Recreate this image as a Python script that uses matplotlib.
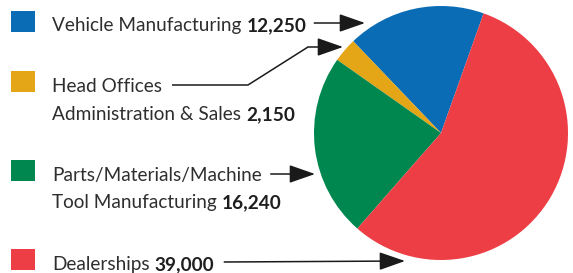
import matplotlib
matplotlib.use("Agg")
import matplotlib.pyplot as plt
from matplotlib.patches import FancyArrowPatch, Rectangle

plt.rcParams['font.family'] = ['Lato', 'DejaVu Sans']

labels = ["Vehicle Manufacturing", "Head Offices\nAdministration & Sales",
          "Parts/Materials/Machine\nTool Manufacturing", "Dealerships"]
values = [12250, 2150, 16240, 39000]
value_text = ["12,250", "2,150", "16,240", "39,000"]
colors = ["#0a6cb5", "#e4a617", "#00874f", "#ee3e45"]

TXT = "#2e2e2e"

fig = plt.figure(figsize=(5.73, 2.73), dpi=100)
ax = fig.add_axes([0, 0, 1, 1])

# pie in pixel-like coords (y inverted, so clockwise in data = counterclockwise on screen)
ax.pie(values, colors=colors, center=(441, 133), radius=127,
       startangle=-70.4, counterclock=False,
       wedgeprops=dict(linewidth=0))
ax.set_xlim(0, 573)
ax.set_ylim(273, 0)
ax.set_aspect('equal')
ax.axis('off')

# legend squares
sq_y = [11, 71, 160, 249]
for y, c in zip(sq_y, colors):
    ax.add_patch(Rectangle((11, y), 24, 21, color=c, lw=0))

fig.canvas.draw()
r = fig.canvas.get_renderer()
inv = ax.transData.inverted()

# pick a font size so the first label is as wide as in the reference (~189 px)
probe = ax.text(0, 0, "Vehicle Manufacturing", fontsize=15)
w = probe.get_window_extent(renderer=r).width
probe.remove()
FS = 15 * 189 / w


def right_edge(t):
    bb = t.get_window_extent(renderer=r)
    return inv.transform((bb.x1, bb.y0))[0]


# baselines of each text line
line_y = [(31,), (92, 120), (181, 208), (270,)]
ends = []   # right edge of the line the arrow leaves from
for lab, val, ys in zip(labels, value_text, line_y):
    parts = lab.split("\n")
    row_ends = []
    for i, (p, y) in enumerate(zip(parts, ys)):
        t = ax.text(52, y, p, fontsize=FS, color=TXT, va='baseline', ha='left')
        if i == len(parts) - 1:
            b = ax.text(right_edge(t) + 5, y, val, fontsize=FS, color='#1e1e1e',
                        fontweight='bold', va='baseline', ha='left')
            row_ends.append(right_edge(b))
        else:
            row_ends.append(right_edge(t))
    ends.append(row_ends[0])


def arrow(path_pts):
    xs = [p[0] for p in path_pts]
    ys = [p[1] for p in path_pts]
    if len(path_pts) > 2:
        ax.plot(xs[:-1], ys[:-1], color='#1a1a1a', lw=1.1, solid_capstyle='butt')
    a = FancyArrowPatch(path_pts[-2], path_pts[-1],
                        arrowstyle="-|>,head_length=0.8,head_width=0.28",
                        mutation_scale=20, color='#1a1a1a', lw=1.1,
                        shrinkA=0, shrinkB=0)
    ax.add_patch(a)


arrow([(max(ends[0] + 8, 300), 23), (365, 23)])
arrow([(ends[1] + 10, 85), (248, 85), (308, 47), (343, 47)])
arrow([(min(ends[2] + 9, 290), 174), (315, 174)])
arrow([(ends[3] + 10, 262), (405, 261)])

fig.savefig("out.png", dpi=100)
